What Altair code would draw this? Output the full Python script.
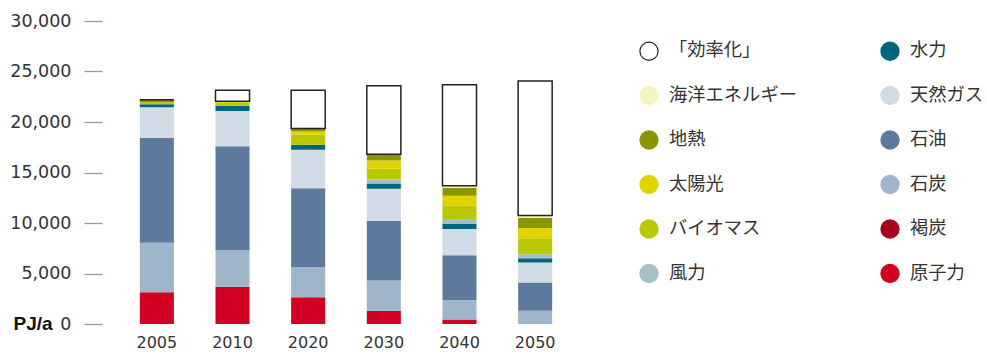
import altair as alt
import pandas as pd

years = ["2005", "2010", "2020", "2030", "2040", "2050"]

# values in PJ/a, stacked bottom -> top
nuclear    = [3150, 3700, 2650, 1300, 450, 0]
lignite    = [0, 0, 0, 0, 0, 0]
coal       = [4900, 3600, 3000, 3000, 1900, 1300]
oil        = [10400, 10300, 7800, 5900, 4450, 2800]
gas        = [3000, 3500, 3800, 3200, 2600, 2000]
hydro      = [300, 500, 500, 500, 500, 400]
wind       = [0, 0, 0, 400, 500, 400]
biomass    = [200, 300, 1000, 1100, 1300, 1600]
solar      = [0, 150, 300, 800, 1000, 1000]
geothermal = [250, 0, 300, 600, 800, 1000]
ocean      = [0, 0, 0, 0, 200, 250]
efficiency = [0, 1100, 3800, 6800, 10000, 13300]

stack_names = ["原子力", "褐炭", "石炭", "石油", "天然ガス", "水力", "風力",
               "バイオマス", "太陽光", "地熱", "海洋エネルギー", "「効率化」"]
stack_values = [nuclear, lignite, coal, oil, gas, hydro, wind,
                biomass, solar, geothermal, ocean, efficiency]
colors = {
    "「効率化」": "#ffffff",
    "海洋エネルギー": "#f3f4c3",
    "地熱": "#8a9600",
    "太陽光": "#e0d300",
    "バイオマス": "#bbc700",
    "風力": "#a2bfca",
    "水力": "#00657e",
    "天然ガス": "#d0dbe5",
    "石油": "#5d7a9c",
    "石炭": "#9fb6ca",
    "褐炭": "#a5001f",
    "原子力": "#d20023",
}
strokes = {k: v for k, v in colors.items()}
strokes["「効率化」"] = "#222222"

# legend order (fills column by column)
legend_order = ["「効率化」", "海洋エネルギー", "地熱", "太陽光", "バイオマス", "風力",
                "水力", "天然ガス", "石油", "石炭", "褐炭", "原子力"]

rows = []
for i, (name, vals) in enumerate(zip(stack_names, stack_values)):
    for y, v in zip(years, vals):
        rows.append({"year": y, "source": name, "value": v, "order": i})
df = pd.DataFrame(rows)

W, H = 488, 303

legend_kw = dict(title=None, orient="none", legendX=537, legendY=20, columns=2,
                 columnPadding=81, rowPadding=20.5,
                 symbolType="circle", symbolSize=330, symbolStrokeWidth=1.2,
                 labelFont="Noto Sans CJK JP", labelFontSize=18.3,
                 labelColor="#333333", labelOffset=10, padding=0)

chart = alt.Chart(df).mark_bar(strokeJoin="miter").encode(
    x=alt.X("year:N", sort=years,
            scale=alt.Scale(paddingInner=0.55, paddingOuter=0.5),
            axis=alt.Axis(title=None, labelAngle=0, ticks=False, domain=False,
                          labelFont="DejaVu Sans", labelFontSize=16,
                          labelColor="#333333", labelPadding=10)),
    y=alt.Y("value:Q", stack="zero",
            scale=alt.Scale(domain=[0, 30000], nice=False),
            axis=alt.Axis(values=[0, 5000, 10000, 15000, 20000, 25000, 30000],
                          format=",.0f", grid=False, domain=False,
                          tickSize=18, tickColor="#8d9cb4", tickWidth=1.3,
                          labelPadding=13, labelFont="DejaVu Sans",
                          labelFontSize=17.5, labelColor="#333333",
                          title="PJ/a", titleAngle=0, titleAlign="left",
                          titleBaseline="middle", titleX=-89, titleY=302,
                          titleFont="Liberation Sans", titleFontSize=19,
                          titleFontWeight="bold", titleColor="#111111")),
    color=alt.Color("source:N",
                    scale=alt.Scale(domain=legend_order,
                                    range=[colors[k] for k in legend_order]),
                    legend=alt.Legend(**legend_kw)),
    stroke=alt.Stroke("source:N",
                      scale=alt.Scale(domain=legend_order,
                                      range=[strokes[k] for k in legend_order]),
                      legend=alt.Legend(**legend_kw)),
    strokeWidth=alt.condition(alt.datum.source == "「効率化」",
                              alt.value(1.5), alt.value(0)),
    order=alt.Order("order:Q", sort="ascending"),
).properties(
    width=W, height=H,
    autosize=alt.AutoSizeParams(type="none"),
    padding={"left": 102, "top": 21, "right": 987 - 102 - W, "bottom": 354 - 21 - H},
    background="white",
).configure_view(stroke=None)

chart.save("out.html", embed_options={"renderer": "svg", "actions": False})
